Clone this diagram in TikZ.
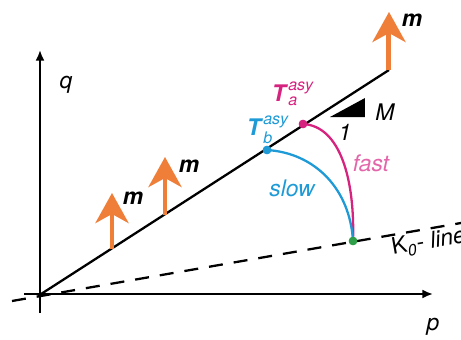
\documentclass[tikz,border=0pt]{standalone}
\usepackage{fontspec}
\setmainfont{TeX Gyre Heros}
\usepackage{amsmath}
\usetikzlibrary{positioning, arrows.meta}
\definecolor{fastpink}{HTML}{D6237F}
\definecolor{fastlight}{HTML}{E365AA}
\definecolor{slowblue}{HTML}{1E9AD6}
\definecolor{kgreen}{HTML}{2E9E48}
\definecolor{morange}{HTML}{EF7E38}

\begin{document}
\begin{tikzpicture}[
        x=0.02cm, y=0.02cm,
        axis/.style={line width=1.1pt, -{Latex[length=6pt, width=5pt]}},
        mainline/.style={line width=1.3pt},
        kline/.style={line width=1.3pt, dash pattern=on 0.28cm off 0.22cm},
        marrow/.style={draw=morange, line width=0.1cm, -{Stealth[length=0.6cm, width=0.66cm, inset=0.18cm]}},
        dot/.style={circle, inner sep=0pt, minimum size=0.17cm},
        mlabel/.style={font=\fontsize{13}{15}\selectfont\bfseries\itshape},
        axlabel/.style={font=\fontsize{13}{15}\selectfont\itshape}
    ]
    \useasboundingbox (0,0) rectangle (461,339);

    % Sumbu
    \coordinate (qstart) at (40,26);
    \coordinate (qend) at (40,289);
    \coordinate (pstart) at (24,45);
    \coordinate (pend) at (433,45);
    \draw[axis] (qstart) -- (qend);
    \draw[axis] (pstart) -- (pend);
    \node[axlabel] (q) at (66,254) {q};
    \node[axlabel] (p) at (433,12) {p};

    % Garis K0
    \coordinate (kstart) at (12,38);
    \coordinate (kend) at (461,116);
    \draw[kline] (kstart) -- (kend);
    \node[rotate=10, anchor=west, font=\fontsize{13}{15}\selectfont] (klabel) at (386,89) {K$_{\textit{0}}$- \textit{line}};

    % Garis utama
    \coordinate (lstart) at (38,43);
    \coordinate (lend) at (389,269);
    \draw[mainline] (lstart) -- (lend);

    % Panah m
    \coordinate (b1) at (112,90);
    \coordinate (t1) at (112,146);
    \coordinate (b2) at (165,124);
    \coordinate (t2) at (165,182);
    \coordinate (b3) at (389,269);
    \coordinate (t3) at (389,327);
    \draw[marrow] (b1) -- (t1);
    \draw[marrow] (b2) -- (t2);
    \draw[marrow] (b3) -- (t3);
    \node[mlabel] (m1) at (133,141) {m};
    \node[mlabel] (m2) at (189,173) {m};
    \node[mlabel] (m3) at (412,319) {m};

    % Kemiringan
    \fill (330,222) -- (365,222) -- (365,241) -- cycle;
    \node[axlabel] (slope) at (385,227) {M};
    \node[axlabel] (one) at (345,207) {1};

    % Lintasan
    \node[dot, fill=kgreen] (k) at (353,98) {};
    \node[dot, fill=fastpink] (ta) at (303,215) {};
    \node[dot, fill=slowblue] (tb) at (267,189) {};
    \draw[fastpink, line width=1.3pt] (ta.center) .. controls (340,213) and (355,160) .. (k.center);
    \draw[slowblue, line width=1.3pt] (tb.center) .. controls (315,186) and (350,150) .. (k.center);
    \node[dot, fill=kgreen] at (k) {};
    \node[dot, fill=fastpink] at (ta) {};
    \node[dot, fill=slowblue] at (tb) {};

    \node[text=fastpink, font=\fontsize{13}{15}\selectfont] (talabel) at (293,245) {\textbf{\textit{T}}$_{\textit{a}}^{\textit{asy}}$};
    \node[text=slowblue, font=\fontsize{13}{15}\selectfont] (tblabel) at (268,209) {\textbf{\textit{T}}$_{\textit{b}}^{\textit{asy}}$};
    \node[axlabel, text=fastlight] (fast) at (371,176) {fast};
    \node[axlabel, text=slowblue] (slow) at (292,151) {slow};

    \end{tikzpicture}
\end{document}
